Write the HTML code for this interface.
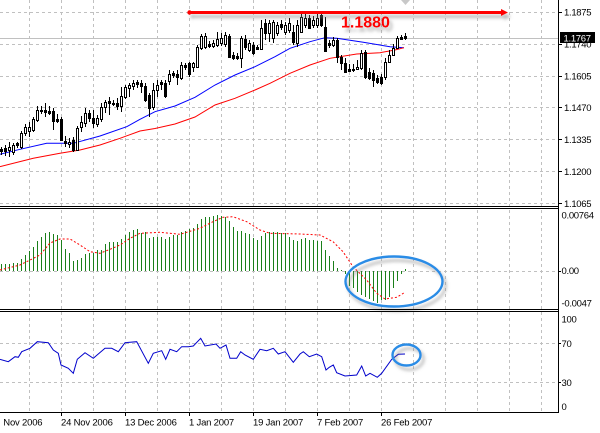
<!DOCTYPE html>
<html><head><meta charset="utf-8"><style>
html,body{margin:0;padding:0;background:#fff;}
svg{display:block;font-family:"Liberation Sans",Arial,sans-serif;}
.ax{font-size:9.5px;letter-spacing:-0.3px;fill:#000;}
.dt{font-size:9.5px;letter-spacing:-0.2px;fill:#000;}
.g{stroke:#c0c0c0;stroke-width:1;stroke-dasharray:3,3;fill:none;}
.w{fill:#fff;stroke:#000;stroke-width:1;}
.b{fill:#000;stroke:#000;stroke-width:1;}
</style></head><body>
<svg width="600" height="433" viewBox="0 0 600 433" xmlns="http://www.w3.org/2000/svg">
<defs>
<filter id="sh" x="-20%" y="-50%" width="150%" height="250%">
<feGaussianBlur in="SourceAlpha" stdDeviation="1.6" result="bl"/>
<feOffset in="bl" dx="3" dy="4" result="of"/>
<feFlood flood-color="#808080" flood-opacity="0.55"/>
<feComposite in2="of" operator="in" result="shd"/>
<feMerge><feMergeNode in="shd"/><feMergeNode in="SourceGraphic"/></feMerge>
</filter>
</defs>
<rect width="600" height="433" fill="#fff"/>

<!-- vertical grid -->
<path class="g" d="M29.5 0V412M61.5 0V412M93.5 0V412M125.5 0V412M157.5 0V412M189.5 0V412M221.5 0V412M253.5 0V412M285.5 0V412M317.5 0V412M349.5 0V412M381.5 0V412M413.5 0V412M445.5 0V412M477.5 0V412M509.5 0V412M541.5 0V412"/>
<!-- horizontal grid -->
<path class="g" d="M0 12.5H558M0 44.5H558M0 76.5H558M0 107.5H558M0 139.5H558M0 171.5H558M0 203.5H558M0 271.5H558M0 343.5H558M0 382.5H558"/>

<!-- current price line -->
<path d="M0 38.5H558" stroke="#c0c0c0" stroke-width="1"/>

<!-- moving averages -->
<polyline fill="none" stroke="#0000ff" stroke-width="1" points="0,154.3 20,149.3 46.7,143.3 73.3,143.3 100,136 126.7,126.7 140,119.3 155,111.7 175,106 195,97.3 215,85 235,75 255,66.7 275,56.7 290,48.3 310,41.7 325,37.7 336.7,38.3 363.3,42.3 390,46.7 404,47.7"/>
<polyline fill="none" stroke="#ff0000" stroke-width="1" points="0,166.7 33.3,158.3 60,153.3 80,150 100,145 120,138.3 140,131 155,128.5 175,124 195,117 215,105 235,98.3 255,90 270,83.3 290,73.3 310,65 330,58.3 356.7,54 380,52.7 395,50 404,47.7"/>

<!-- wicks -->
<path stroke="#000" stroke-width="1" fill="none" d="M1.5 147V155M5.5 145V156M9.5 142V157M13.5 143V155M17.5 142V148M21.5 131V149M25.5 124V136M29.5 122V137M33.5 117V132M37.5 106V122M41.5 106V114M45.5 103V117M49.5 106V115M53.5 108V130M57.5 114V123M61.5 117V141M65.5 136V147M69.5 138V148M73.5 137V152M77.5 126V151M81.5 116V132M85.5 108V127M89.5 110V122M93.5 110V128M97.5 115V127M101.5 103V122M105.5 100V113M109.5 97V115M113.5 100V106M117.5 98V110M121.5 87V112M125.5 85V99M129.5 83V97M133.5 80V90M137.5 80V88M141.5 80V93M145.5 83V102M149.5 93V117M153.5 83V110M157.5 80V97M161.5 80V90M165.5 80V98M169.5 70V85M173.5 71V78M177.5 70V85M181.5 62V80M185.5 63V70M189.5 62V77M193.5 62V72M197.5 45V68M201.5 34V50M205.5 33V49M209.5 41V48M213.5 40V48M217.5 32V47M221.5 33V46M225.5 32V47M229.5 34V58M233.5 52V60M237.5 53V60M241.5 36V68M245.5 35V50M249.5 40V52M253.5 42V55M257.5 45V50M261.5 20V50M265.5 19V40M269.5 20V42M273.5 20V43M277.5 22V36M281.5 20V30M285.5 22V35M289.5 18V33M293.5 25V45M297.5 20V47M301.5 13V33M305.5 14V28M309.5 15V29M313.5 16V28M317.5 13V28M321.5 13V27M325.5 17V52M329.5 40V48M333.5 37V47M337.5 38V63M341.5 55V70M345.5 58V73M349.5 64V72M353.5 64V72M357.5 60V70M361.5 50V70M365.5 50V79M369.5 68V80M373.5 70V87M377.5 75V84M381.5 74V85M385.5 58V80M389.5 50V62M393.5 44V56M397.5 36V49M401.5 35V40M405.5 33V40"/>

<!-- bodies -->
<g>
<rect class="b" x="0.5" y="149.5" width="2" height="2"/>
<rect class="b" x="4.5" y="148.5" width="2" height="3"/>
<rect class="w" x="8.5" y="147.5" width="2" height="3"/>
<rect class="w" x="12.5" y="145.5" width="2" height="7"/>
<rect class="b" x="16.5" y="143.5" width="2" height="2"/>
<rect class="w" x="20.5" y="133.5" width="2" height="14"/>
<rect class="w" x="24.5" y="127.5" width="2" height="6"/>
<rect class="w" x="28.5" y="127.5" width="2" height="4"/>
<rect class="w" x="32.5" y="119.5" width="2" height="11"/>
<rect class="w" x="36.5" y="110.5" width="2" height="10"/>
<rect class="b" x="40.5" y="110.5" width="2" height="1"/>
<rect class="b" x="44.5" y="110.5" width="2" height="2"/>
<rect class="b" x="48.5" y="111.5" width="2" height="2"/>
<rect class="b" x="52.5" y="111.5" width="2" height="10"/>
<rect class="b" x="56.5" y="119.5" width="2" height="2"/>
<rect class="b" x="60.5" y="119.5" width="2" height="21"/>
<rect class="b" x="64.5" y="141.5" width="2" height="2"/>
<rect class="w" x="68.5" y="142.5" width="2" height="2"/>
<rect class="b" x="72.5" y="140.5" width="2" height="10"/>
<rect class="w" x="76.5" y="128.5" width="2" height="22"/>
<rect class="w" x="80.5" y="122.5" width="2" height="5"/>
<rect class="w" x="84.5" y="113.5" width="2" height="10"/>
<rect class="b" x="88.5" y="113.5" width="2" height="5"/>
<rect class="b" x="92.5" y="118.5" width="2" height="5"/>
<rect class="w" x="96.5" y="118.5" width="2" height="6"/>
<rect class="w" x="100.5" y="107.5" width="2" height="12"/>
<rect class="w" x="104.5" y="102.5" width="2" height="5"/>
<rect class="b" x="108.5" y="101.5" width="2" height="2"/>
<rect class="b" x="112.5" y="103.5" width="2" height="1"/>
<rect class="b" x="116.5" y="103.5" width="2" height="3"/>
<rect class="w" x="120.5" y="96.5" width="2" height="10"/>
<rect class="w" x="124.5" y="87.5" width="2" height="10"/>
<rect class="w" x="128.5" y="85.5" width="2" height="3"/>
<rect class="w" x="132.5" y="83.5" width="2" height="3"/>
<rect class="b" x="136.5" y="82.5" width="2" height="2"/>
<rect class="b" x="140.5" y="83.5" width="2" height="3"/>
<rect class="b" x="144.5" y="86.5" width="2" height="14"/>
<rect class="b" x="148.5" y="95.5" width="2" height="13"/>
<rect class="w" x="152.5" y="90.5" width="2" height="17"/>
<rect class="w" x="156.5" y="85.5" width="2" height="5"/>
<rect class="b" x="160.5" y="82.5" width="2" height="2"/>
<rect class="b" x="164.5" y="83.5" width="2" height="13"/>
<rect class="w" x="168.5" y="74.5" width="2" height="7"/>
<rect class="b" x="172.5" y="73.5" width="2" height="2"/>
<rect class="b" x="176.5" y="74.5" width="2" height="3"/>
<rect class="w" x="180.5" y="65.5" width="2" height="13"/>
<rect class="b" x="184.5" y="65.5" width="2" height="2"/>
<rect class="b" x="188.5" y="63.5" width="2" height="11"/>
<rect class="w" x="192.5" y="63.5" width="2" height="4"/>
<rect class="w" x="196.5" y="47.5" width="2" height="20"/>
<rect class="w" x="200.5" y="36.5" width="2" height="12"/>
<rect class="w" x="204.5" y="36.5" width="2" height="11"/>
<rect class="b" x="208.5" y="44.5" width="2" height="2"/>
<rect class="w" x="212.5" y="43.5" width="2" height="3"/>
<rect class="w" x="216.5" y="39.5" width="2" height="6"/>
<rect class="w" x="220.5" y="38.5" width="2" height="5"/>
<rect class="w" x="224.5" y="35.5" width="2" height="9"/>
<rect class="b" x="228.5" y="36.5" width="2" height="21"/>
<rect class="b" x="232.5" y="55.5" width="2" height="3"/>
<rect class="b" x="236.5" y="56.5" width="2" height="2"/>
<rect class="w" x="240.5" y="38.5" width="2" height="20"/>
<rect class="b" x="244.5" y="39.5" width="2" height="8"/>
<rect class="w" x="248.5" y="43.5" width="2" height="7"/>
<rect class="b" x="252.5" y="45.5" width="2" height="8"/>
<rect class="b" x="256.5" y="47.5" width="2" height="2"/>
<rect class="w" x="260.5" y="28.5" width="2" height="21"/>
<rect class="b" x="264.5" y="23.5" width="2" height="10"/>
<rect class="w" x="268.5" y="23.5" width="2" height="10"/>
<rect class="w" x="272.5" y="22.5" width="2" height="16"/>
<rect class="w" x="276.5" y="25.5" width="2" height="8"/>
<rect class="b" x="280.5" y="24.5" width="2" height="3"/>
<rect class="w" x="284.5" y="25.5" width="2" height="7"/>
<rect class="w" x="288.5" y="23.5" width="2" height="7"/>
<rect class="b" x="292.5" y="32.5" width="2" height="10"/>
<rect class="w" x="296.5" y="25.5" width="2" height="18"/>
<rect class="w" x="300.5" y="17.5" width="2" height="15"/>
<rect class="w" x="304.5" y="18.5" width="2" height="7"/>
<rect class="b" x="308.5" y="18.5" width="2" height="10"/>
<rect class="w" x="312.5" y="20.5" width="2" height="5"/>
<rect class="w" x="316.5" y="18.5" width="2" height="7"/>
<rect class="b" x="320.5" y="15.5" width="2" height="10"/>
<rect class="b" x="324.5" y="27.5" width="2" height="24"/>
<rect class="b" x="328.5" y="43.5" width="2" height="2"/>
<rect class="w" x="332.5" y="40.5" width="2" height="5"/>
<rect class="b" x="336.5" y="40.5" width="2" height="17"/>
<rect class="b" x="340.5" y="57.5" width="2" height="6"/>
<rect class="b" x="344.5" y="63.5" width="2" height="9"/>
<rect class="b" x="348.5" y="69.5" width="2" height="2"/>
<rect class="b" x="352.5" y="69.5" width="2" height="1"/>
<rect class="w" x="356.5" y="67.5" width="2" height="2"/>
<rect class="w" x="360.5" y="53.5" width="2" height="15"/>
<rect class="b" x="364.5" y="52.5" width="2" height="25"/>
<rect class="b" x="368.5" y="72.5" width="2" height="6"/>
<rect class="b" x="372.5" y="73.5" width="2" height="7"/>
<rect class="b" x="376.5" y="78.5" width="2" height="4"/>
<rect class="b" x="380.5" y="77.5" width="2" height="6"/>
<rect class="w" x="384.5" y="62.5" width="2" height="15"/>
<rect class="w" x="388.5" y="55.5" width="2" height="7"/>
<rect class="w" x="392.5" y="48.5" width="2" height="7"/>
<rect class="w" x="396.5" y="38.5" width="2" height="10"/>
<rect class="b" x="400.5" y="37.5" width="2" height="2"/>
<rect class="b" x="404.5" y="36.5" width="2" height="2"/>
</g>

<!-- top marker -->
<polygon points="401,0 410,0 405.5,5" fill="#c8c8c8"/>

<!-- red horizontal arrow line -->
<g filter="url(#sh)">
<path d="M189 12.5H503" stroke="#ff0000" stroke-width="3" fill="none"/>
<circle cx="189.5" cy="12.5" r="2.2" fill="#ff0000"/>
<polygon points="501,9 508,12.5 501,16" fill="#ff0000"/>
</g>
<text x="341" y="27.7" font-size="16" font-weight="bold" fill="#ff0000" filter="url(#sh)" style="font-family:'Liberation Sans',Arial,sans-serif">1.1880</text>

<!-- MACD histogram -->
<path stroke="#1a7f1a" stroke-width="1" fill="none" d="M1.5 271V264M5.5 271V264M9.5 271V264M13.5 271V263M17.5 271V263M21.5 271V259M25.5 271V255M29.5 271V251M33.5 271V247M37.5 271V241M41.5 271V237M45.5 271V233M49.5 271V232M53.5 271V234M57.5 271V235M61.5 271V240M65.5 271V249M69.5 271V253M73.5 271V261M77.5 271V260M81.5 271V258M85.5 271V254M89.5 271V253M93.5 271V253M97.5 271V250M101.5 271V250M105.5 271V244M109.5 271V242M113.5 271V242M117.5 271V242M121.5 271V239M125.5 271V235M129.5 271V232M133.5 271V230M137.5 271V229M141.5 271V233M145.5 271V232M149.5 271V238M153.5 271V237M157.5 271V237M161.5 271V237M165.5 271V239M169.5 271V237M173.5 271V235M177.5 271V235M181.5 271V232M185.5 271V231M189.5 271V229M193.5 271V228M197.5 271V224M201.5 271V219M205.5 271V217M209.5 271V217M213.5 271V216M217.5 271V215M221.5 271V216M225.5 271V217M229.5 271V221M233.5 271V227M237.5 271V231M241.5 271V231M245.5 271V233M249.5 271V234M253.5 271V238M257.5 271V240M261.5 271V236M265.5 271V233M269.5 271V232M273.5 271V232M277.5 271V232M281.5 271V233M285.5 271V233M289.5 271V237M293.5 271V240M297.5 271V241M301.5 271V239M305.5 271V238M309.5 271V240M313.5 271V240M317.5 271V241M321.5 271V241M325.5 271V250M329.5 271V256M333.5 271V261M337.5 271V268M341.5 271V270M345.5 271V274M349.5 271V286M353.5 271V288M357.5 271V292M361.5 271V295M365.5 271V297M369.5 271V299M373.5 271V301M377.5 271V303M381.5 271V300M385.5 271V300M389.5 271V297M393.5 271V288M397.5 271V281M401.5 271V274M405.5 271V269"/>
<!-- MACD signal -->
<polyline fill="none" stroke="#ff0000" stroke-width="1" stroke-dasharray="2,2" points="0,270 20,265 40,255 50,243 60,239 70,239 80,245 90,251.7 100,253.3 110,249.3 120,245 130,238.3 140,233.3 160,232.3 180,234.3 200,228.3 213,221.7 223,217.3 233,216.7 246.7,221.7 260,230 270,233.3 300,234 320,235 333,241.7 343,251.7 353,266.7 366.7,280 376.7,293.3 385,299 396.7,297.3 405,292.3"/>

<!-- RSI -->
<polyline fill="none" stroke="#0000cc" stroke-width="1" points="0,359.3 8.3,361.7 15,356.7 18.3,357.3 21.7,351.7 30,348.3 37.3,341.7 48.3,342.7 53.3,350 58.3,353.3 61,365 68.3,368.3 73.3,373.3 77.3,359.3 85,352.7 93.3,358.3 105,348.3 111.7,348.3 118.3,351.7 125,342.7 136.7,341.7 148.3,363.3 153.3,353.3 161.7,350.7 165.7,359.3 170,349.3 176.7,351.7 181.7,346.7 188.3,346.7 193.3,346 200.7,338.3 205,346 216,344 220,348.3 226,345 230,358.3 236.7,358.3 240.7,351.7 245,355 253.3,359.3 260,349.3 266.7,350.7 273.3,348.3 278.3,354 285,351.7 293.3,362.3 300,354 303.3,351.7 309.3,356.7 316.7,354 321.7,356.7 326,370 329.3,367.3 333.3,365 336.7,372.7 345,376 356.7,375 361.7,366 365.7,376 370,373.3 377.3,377.3 381.7,373.3 391.7,359.3 398.3,354.3 405,354"/>

<!-- ellipses -->
<ellipse cx="394" cy="281.5" rx="48.5" ry="25" fill="none" stroke="#2a8ce6" stroke-width="2.4" filter="url(#sh)"/>
<ellipse cx="406.5" cy="355" rx="14" ry="10.5" fill="none" stroke="#2a8ce6" stroke-width="2.4" filter="url(#sh)"/>

<!-- panel borders -->
<path stroke="#000" stroke-width="1" fill="none" d="M0 206.5H559M0 208.5H559M0 309.5H559M0 311.5H559M0 412.5H559M558.5 0V413"/>
<!-- axis ticks -->
<path stroke="#000" stroke-width="1" fill="none" d="M558 12.5H562M558 44.5H562M558 76.5H562M558 107.5H562M558 139.5H562M558 171.5H562M558 203.5H562M558 271.5H561M558 343.5H561M558 382.5H561M61.5 412V416M125.5 412V416M189.5 412V416M253.5 412V416M317.5 412V416M381.5 412V416"/>

<!-- price axis labels -->
<text class="ax" x="564" y="15.6">1.1875</text>
<text class="ax" x="564" y="47.6">1.1740</text>
<text class="ax" x="564" y="79.4">1.1605</text>
<text class="ax" x="564" y="111.2">1.1470</text>
<text class="ax" x="564" y="143.2">1.1335</text>
<text class="ax" x="564" y="175.1">1.1200</text>
<text class="ax" x="564" y="206.8">1.1065</text>
<rect x="560" y="32" width="35" height="11" fill="#000"/>
<text class="ax" x="563.5" y="41.3" style="fill:#fff">1.1767</text>

<!-- MACD labels -->
<text class="ax" x="561.5" y="218.3">0.00764</text>
<text class="ax" x="561.5" y="274.2">0.00</text>
<text class="ax" x="561.5" y="306.7">-0.0047</text>
<!-- RSI labels -->
<text class="ax" x="561.5" y="322.7">100</text>
<text class="ax" x="561.5" y="346.8">70</text>
<text class="ax" x="561.5" y="385.8">30</text>
<text class="ax" x="561.5" y="410.2">0</text>

<!-- date labels -->
<text class="dt" x="3.3" y="425.6">Nov 2006</text>
<text class="dt" x="61" y="425.6">24 Nov 2006</text>
<text class="dt" x="125" y="425.6">13 Dec 2006</text>
<text class="dt" x="189" y="425.6">1 Jan 2007</text>
<text class="dt" x="253" y="425.6">19 Jan 2007</text>
<text class="dt" x="317" y="425.6">7 Feb 2007</text>
<text class="dt" x="381" y="425.6">26 Feb 2007</text>
</svg>
</body></html>
